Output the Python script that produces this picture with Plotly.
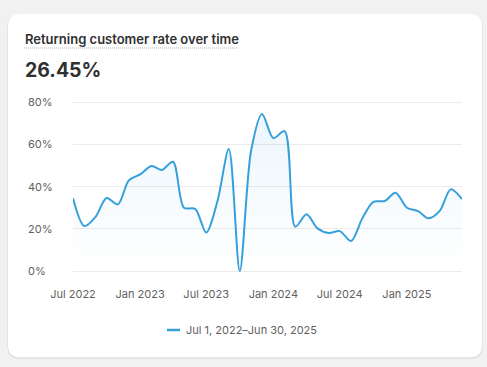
import plotly.graph_objects as go

# ---- data ----
months = [
    "2022-07-01", "2022-08-01", "2022-09-01", "2022-10-01", "2022-11-01", "2022-12-01",
    "2023-01-01", "2023-02-01", "2023-03-01", "2023-04-01", "2023-05-01", "2023-06-01",
    "2023-07-01", "2023-08-01", "2023-09-01", "2023-10-01", "2023-11-01", "2023-12-01",
    "2024-01-01", "2024-02-01", "2024-03-01", "2024-04-01", "2024-05-01", "2024-06-01",
    "2024-07-01", "2024-08-01", "2024-09-01", "2024-10-01", "2024-11-01", "2024-12-01",
    "2025-01-01", "2025-02-01", "2025-03-01", "2025-04-01", "2025-05-01", "2025-06-01",
]
rate = [
    34.5, 21.3, 25.7, 34.6, 31.6, 43.0,
    45.8, 49.8, 47.9, 51.8, 30.0, 29.4,
    18.2, 33.2, 57.8, 0.0, 57.0, 74.5,
    63.0, 66.3, 21.0, 26.9, 20.2, 18.0,
    18.9, 14.2, 25.0, 32.8, 33.2, 37.1,
    30.0, 28.4, 25.0, 28.5, 38.7, 34.1,
]
x_tickvals = ["2022-07-01", "2023-01-01", "2023-07-01", "2024-01-01", "2024-07-01", "2025-01-01"]
y_tickvals = [0, 20, 40, 60, 80]
y_ticktext = ["0%", "20%", "40%", "60%", "80%"]
title_text = "Returning customer rate over time"
kpi_text = "26.45%"
legend_text = "Jul 1, 2022\u2013Jun 30, 2025"

# ---- geometry (pixels) ----
W, H = 487, 367
ML, MR, MT, MB = 27, 25, 100, 94
PW = W - ML - MR
PH = H - MT - MB
def px(x):
    return (x - ML) / PW
def py(y):
    return (H - MB - y) / PH

LINE = "#36a0dc"
TEXT = "#303030"
SUB = "#616161"
FONT = "Inter"

fig = go.Figure()
fig.add_trace(go.Scatter(
    x=months, y=rate, mode="lines",
    line=dict(color=LINE, width=2, shape="spline", smoothing=0.85),
    fill="tozeroy",
    fillgradient=dict(type="vertical", start=0, stop=80,
                      colorscale=[[0, "rgba(54,160,220,0.0)"], [1, "rgba(54,160,220,0.10)"]]),
    showlegend=False, hoverinfo="skip",
))

y_range = [-0.95, 81.09]

def rounded_rect(x0, y0, x1, y1, r):
    rx, ry = r / PW, r / PH
    X0, X1 = px(x0), px(x1)
    Yt, Yb = py(y0), py(y1)
    return (f"M {X0+rx},{Yt} L {X1-rx},{Yt} Q {X1},{Yt} {X1},{Yt-ry} "
            f"L {X1},{Yb+ry} Q {X1},{Yb} {X1-rx},{Yb} L {X0+rx},{Yb} "
            f"Q {X0},{Yb} {X0},{Yb+ry} L {X0},{Yt-ry} Q {X0},{Yt} {X0+rx},{Yt} Z")

shapes = [
    dict(type="path", xref="paper", yref="paper", layer="below",
         path=rounded_rect(7.5, 14.5, 482.5, 358.5, 12), fillcolor="#d6d6d6", line=dict(width=0)),
    dict(type="path", xref="paper", yref="paper", layer="below",
         path=rounded_rect(8, 14, 482, 357.5, 12), fillcolor="#ffffff", line=dict(width=0)),
    dict(type="line", xref="paper", yref="paper",
         x0=px(24), x1=px(238), y0=py(48), y1=py(48),
         line=dict(color="#b5b5b5", width=1, dash="1px,1px")),
    dict(type="line", xref="paper", yref="paper",
         x0=px(167), x1=px(180), y0=py(330), y1=py(330),
         line=dict(color=LINE, width=2.5)),
]

annotations = [
    dict(text=title_text, xref="paper", yref="paper", x=px(23), y=py(39),
         xanchor="left", yanchor="middle", showarrow=False,
         font=dict(family=FONT, size=13, color=TEXT, weight=600)),
    dict(text=kpi_text, xref="paper", yref="paper", x=px(23), y=py(70),
         xanchor="left", yanchor="middle", showarrow=False,
         font=dict(family=FONT, size=19.5, color=TEXT, weight=700)),
    dict(text=legend_text, xref="paper", yref="paper", x=px(184), y=py(330),
         xanchor="left", yanchor="middle", showarrow=False,
         font=dict(family=FONT, size=11, color=SUB)),
]
for v, t in zip(y_tickvals, y_ticktext):
    annotations.append(dict(text=t, xref="paper", yref="y", x=px(26), y=v,
                            xanchor="left", yanchor="middle", showarrow=False,
                            font=dict(family=FONT, size=11, color=SUB)))

fig.update_layout(
    width=W, height=H,
    margin=dict(l=ML, r=MR, t=MT, b=MB, pad=0, autoexpand=False),
    paper_bgcolor="#f1f1f1", plot_bgcolor="rgba(0,0,0,0)",
    font=dict(family=FONT, size=11, color=SUB),
    showlegend=False,
    shapes=shapes, annotations=annotations,
    xaxis=dict(domain=[px(73), 1], range=["2022-07-01", "2025-06-01"],
               tickvals=x_tickvals, tickformat="%b %Y", showgrid=False,
               zeroline=False, showline=False, ticks="", automargin=False,
               tickfont=dict(family=FONT, size=11, color=SUB), ticklabelstandoff=13),
    yaxis=dict(range=y_range, tickvals=y_tickvals, showticklabels=False,
               showgrid=True, gridcolor="#ebebeb", gridwidth=1, automargin=False,
               zeroline=False, showline=False, ticks=""),
)

fig.write_html("out.html", config={"displayModeBar": False},
               post_script="document.body.style.margin='0';")
